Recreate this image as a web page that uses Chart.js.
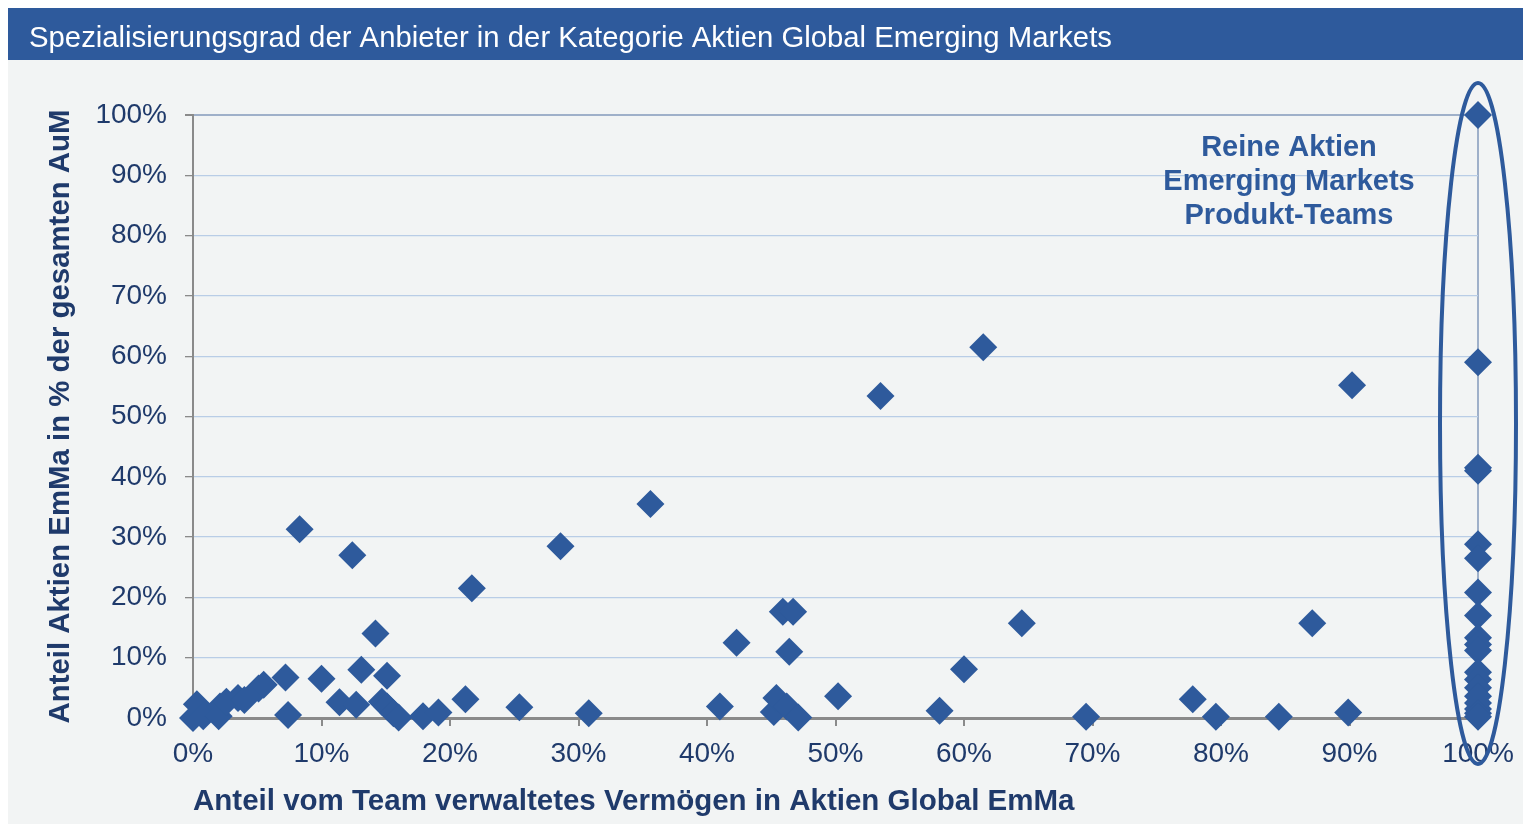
<!DOCTYPE html>
<html>
<head>
<meta charset="utf-8">
<script src="https://cdn.jsdelivr.net/npm/chart.js@4.4.1/dist/chart.umd.min.js"></script>
<style>
  html, body { margin: 0; padding: 0; background: #ffffff; }
  #wrap { width: 1523px; height: 824px; }
</style>
</head>
<body>
<div id="wrap"><canvas id="c" width="1523" height="824"></canvas></div>
<script>
// ---- Data ----
const chartTitle = 'Spezialisierungsgrad der Anbieter in der Kategorie Aktien Global Emerging Markets';
const xAxisTitle = 'Anteil vom Team verwaltetes Vermögen in Aktien Global EmMa';
const yAxisTitle = 'Anteil Aktien EmMa in % der gesamten AuM';
const annotationLines = ['Reine Aktien', 'Emerging Markets', 'Produkt-Teams'];

// x: share of team-managed assets in Global EmMa equities (%)
const teamShare = [
  0.3, 0, 0.8, 2.1, 2.0, 2.6, 3.5, 4.0, 5.1, 5.5,
  7.2, 7.4, 8.3, 10.0, 11.4, 12.4, 12.7, 13.1, 14.2, 14.7,
  15.1, 15.1, 15.6, 16.0, 17.9, 19.1, 21.2, 21.7, 25.4, 28.6,
  30.8, 35.6, 41.0, 42.3, 45.2, 45.4, 45.9, 46.2, 46.4, 46.7,
  47.1, 50.2, 53.5, 58.1, 60.0, 61.5, 64.5, 69.5, 77.8, 79.6,
  84.5, 87.1, 89.9, 90.2,
  100, 100, 100, 100, 100, 100, 100, 100, 100, 100,
  100, 100, 100, 100, 100, 100, 100, 100, 100
];
// y: share of EmMa equities in total AuM (%)
const emmaShare = [
  2.3, 0, 0.3, 1.9, 0.3, 2.7, 3.3, 3.0, 4.9, 5.5,
  6.7, 0.5, 31.3, 6.5, 2.6, 27.0, 2.2, 8.0, 14.0, 2.7,
  7.0, 1.9, 0.8, 0.1, 0.3, 0.9, 3.1, 21.5, 1.8, 28.5,
  0.8, 35.5, 1.9, 12.5, 1.0, 3.3, 17.6, 1.9, 11.0, 17.6,
  0.1, 3.6, 53.4, 1.2, 8.1, 61.5, 15.7, 0.2, 3.1, 0.2,
  0.2, 15.7, 0.9, 55.2,
  100, 59.0, 41.5, 41.0, 28.8, 26.5, 20.8, 17.0, 13.3, 12.2,
  11.2, 7.6, 6.4, 5.0, 3.6, 2.5, 1.5, 0.8, 0.2
];
const axisMin = 0, axisMax = 100, axisStep = 10;

const points = teamShare.map((x, i) => ({ x: x, y: emmaShare[i] }));

// ---- Styles ----
const BLUE = '#2e5a9c';
const NAVY = '#1f3a6b';
const BG = '#f2f4f4';
const FONT = '"Liberation Sans", Arial, sans-serif';

const decor = {
  id: 'decor',
  beforeDraw(chart) {
    const ctx = chart.ctx;
    ctx.save();
    ctx.fillStyle = '#ffffff';
    ctx.fillRect(0, 0, chart.width, chart.height);
    ctx.fillStyle = BG;
    ctx.fillRect(8, 8, chart.width - 8, chart.height - 8);
    ctx.fillStyle = BLUE;
    ctx.fillRect(8, 8, chart.width - 8, 52);
    ctx.fillStyle = '#ffffff';
    ctx.font = '29.3px ' + FONT;
    ctx.textBaseline = 'alphabetic';
    ctx.textAlign = 'left';
    ctx.fillText(chartTitle, 29, 47);
    ctx.restore();
  },
  afterDraw(chart) {
    const ctx = chart.ctx;
    const xs = chart.scales.x, ys = chart.scales.y;
    ctx.save();
    // ellipse around the 100% column
    const cx = xs.getPixelForValue(100);
    const top = ys.getPixelForValue(100) - 32;
    const bottom = ys.getPixelForValue(0) + 46;
    ctx.strokeStyle = BLUE;
    ctx.lineWidth = 4;
    ctx.beginPath();
    ctx.ellipse(cx, (top + bottom) / 2, 38, (bottom - top) / 2, 0, 0, Math.PI * 2);
    ctx.stroke();
    // annotation text
    ctx.fillStyle = BLUE;
    ctx.font = 'bold 29px ' + FONT;
    ctx.textAlign = 'center';
    ctx.textBaseline = 'alphabetic';
    annotationLines.forEach((t, i) => ctx.fillText(t, 1289, 156 + i * 34));
    ctx.restore();
  }
};

new Chart(document.getElementById('c'), {
  type: 'scatter',
  data: {
    datasets: [{
      data: points,
      pointStyle: 'rectRot',
      pointRadius: 14,
      pointHoverRadius: 14,
      backgroundColor: BLUE,
      borderColor: BLUE,
      borderWidth: 0,
      clip: false
    }]
  },
  options: {
    responsive: false,
    animation: false,
    events: [],
    layout: { autoPadding: false, padding: { left: 8, top: 115, right: 45, bottom: 0 } },
    plugins: { legend: { display: false }, tooltip: { enabled: false } },
    scales: {
      x: {
        type: 'linear',
        min: axisMin, max: axisMax,
        afterFit(scale) {
          scale.height = 106;
          scale.paddingLeft = 0;
          scale.paddingRight = 0;
        },
        border: { color: '#8a8a8a', width: 3 },
        grid: {
          color: (c) => (c.tick && c.tick.value === 100 ? '#9fb0c9' : 'rgba(0,0,0,0)'),
          lineWidth: 2,
          tickColor: '#8a8a8a',
          tickLength: 8,
          drawTicks: true
        },
        ticks: {
          stepSize: axisStep,
          padding: 11,
          color: NAVY,
          font: { family: FONT, size: 28 },
          callback: (v) => v + '%'
        },
        title: {
          display: true,
          text: xAxisTitle,
          align: 'start',
          color: NAVY,
          font: { family: FONT, size: 29.5, weight: 'bold' },
          padding: { top: 0, bottom: 4 }
        }
      },
      y: {
        type: 'linear',
        min: axisMin, max: axisMax,
        afterFit(scale) {
          scale.width = 185;
          scale.paddingTop = 0;
          scale.paddingBottom = 0;
        },
        border: { color: '#8a8a8a', width: 2 },
        grid: {
          color: (c) => (c.tick && c.tick.value === 100 ? '#9fb0c9' : '#b9cde6'),
          lineWidth: (c) => (c.tick && c.tick.value === 100 ? 2 : 1.3),
          tickColor: '#8a8a8a',
          tickLength: 8,
          drawTicks: true
        },
        ticks: {
          stepSize: axisStep,
          padding: 18,
          color: NAVY,
          font: { family: FONT, size: 28 },
          callback: (v) => v + '%'
        },
        title: {
          display: true,
          text: yAxisTitle,
          align: 'center',
          color: NAVY,
          font: { family: FONT, size: 29.4, weight: 'bold' },
          padding: { top: 35, bottom: 0 }
        }
      }
    }
  },
  plugins: [decor]
});
</script>
</body>
</html>
